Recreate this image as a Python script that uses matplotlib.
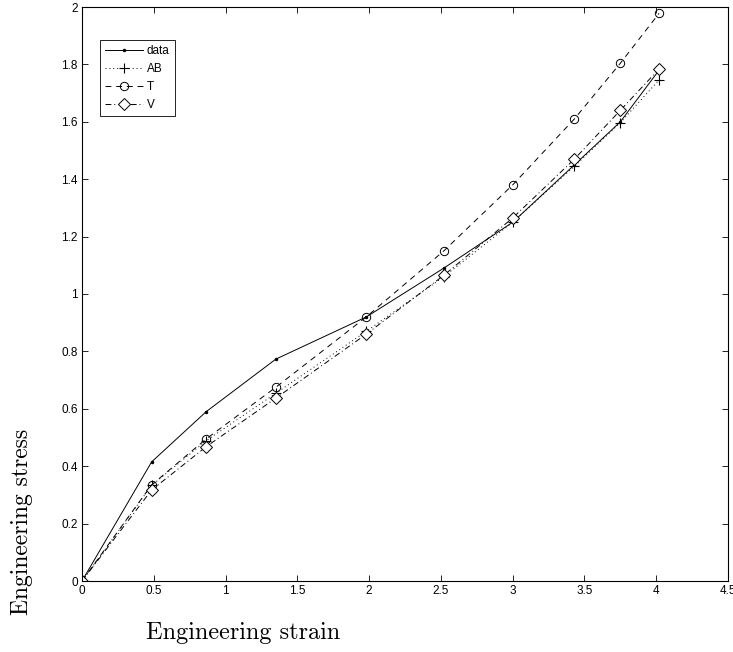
import matplotlib
matplotlib.use("Agg")
import matplotlib.pyplot as plt
import numpy as np

# strain values and the stress curves (measured data + three models)
strain = [0, 0.485, 0.865, 1.35, 1.98, 2.52, 3.0, 3.43, 3.75, 4.02]
stress_data = [0, 0.415, 0.59, 0.773, 0.92, 1.09, 1.25, 1.45, 1.60, 1.78]
stress_AB = [0, 0.333, 0.489, 0.654, 0.87, 1.06, 1.25, 1.445, 1.597, 1.746]
stress_T = [0, 0.335, 0.495, 0.675, 0.92, 1.15, 1.38, 1.61, 1.804, 1.978]
stress_V = [0, 0.317, 0.468, 0.637, 0.86, 1.065, 1.265, 1.47, 1.64, 1.784]

xticks = np.arange(0, 4.51, 0.5)
yticks = np.arange(0, 2.01, 0.2)

plt.rcParams['font.family'] = 'Liberation Sans'

fig = plt.figure(figsize=(7.33, 6.52), dpi=100)
ax = fig.add_axes([82 / 733, 1 - 581 / 652, 646 / 733, 574 / 652])

lw = 0.7
ax.plot(strain, stress_data, color='k', lw=lw, ls='-', marker='.', ms=3, label='data')
ax.plot(strain, stress_AB, color='k', lw=lw, ls=(0, (1, 3)), marker='+', ms=7,
        mew=0.8, label='AB')
ax.plot(strain, stress_T, color='k', lw=lw, ls=(0, (6, 5)), marker='o', ms=6,
        mfc='none', mew=0.7, label='T')
ax.plot(strain, stress_V, color='k', lw=lw, ls=(0, (6, 3, 1, 3)), marker='D', ms=6,
        mfc='white', mew=0.7, label='V')

ax.set_xlim(0, 4.5)
ax.set_ylim(0, 2)
ax.set_xticks(xticks)
ax.set_yticks(yticks)
ax.set_xticklabels(['0', '0.5', '1', '1.5', '2', '2.5', '3', '3.5', '4', '4.5'])
ax.set_yticklabels(['0', '0.2', '0.4', '0.6', '0.8', '1', '1.2', '1.4', '1.6', '1.8', '2'])
ax.tick_params(direction='in', length=4.5, width=0.6, top=True, right=True,
               labelsize=8.5, pad=3)
for s in ax.spines.values():
    s.set_linewidth(0.8)

leg = ax.legend(loc='upper left', bbox_to_anchor=(0.028, 0.9425), fontsize=8.5,
                handlelength=3.2, labelspacing=0.5, borderpad=0.45,
                handletextpad=0.3, fancybox=False, framealpha=1, borderaxespad=0)
leg.get_frame().set_edgecolor('k')
leg.get_frame().set_linewidth(0.6)

fig.text(243 / 733, 1 - 633 / 652, 'Engineering strain', family='cmr10',
         fontsize=17.5, ha='center', va='center')
fig.text(22 / 733, 1 - 522 / 652, 'Engineering stress', family='cmr10',
         fontsize=17, ha='center', va='center', rotation=90)

fig.savefig('out.png', dpi=100)
